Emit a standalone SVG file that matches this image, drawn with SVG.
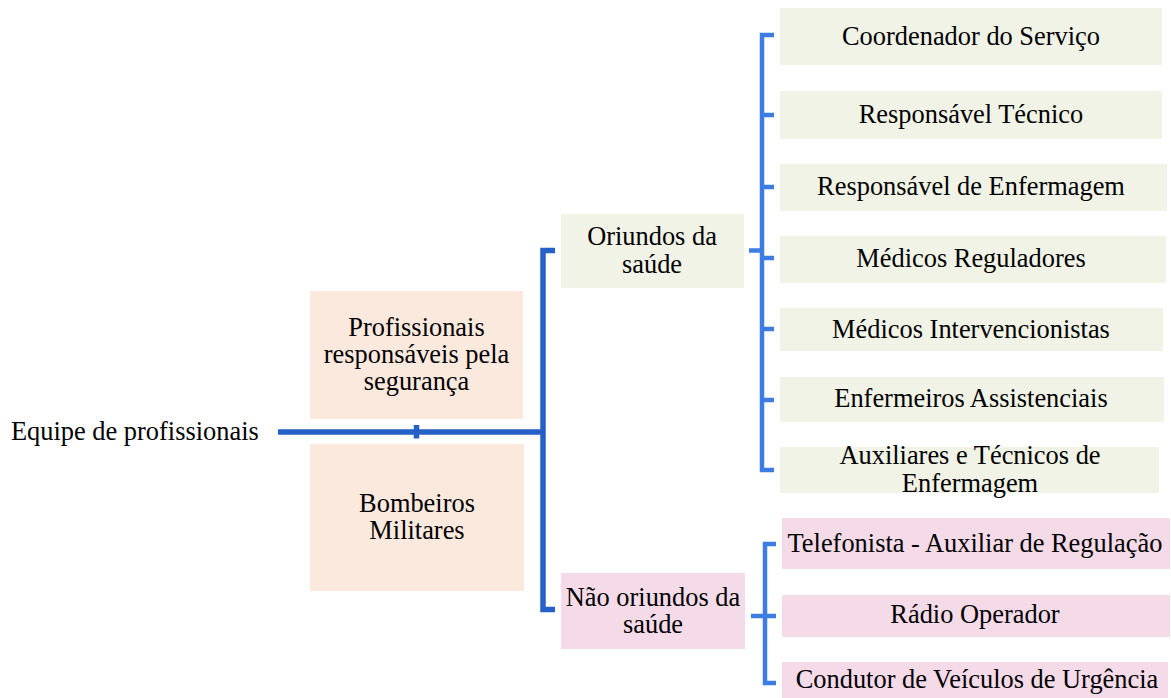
<svg xmlns="http://www.w3.org/2000/svg" width="1171" height="698" viewBox="0 0 1171 698">
<style>
text{font-family:"Liberation Serif","Times New Roman",serif;font-size:26.4px;fill:#000;text-anchor:middle}
.g{fill:#F0F3E5}
.p{fill:#FCE9DE}
.k{fill:#F5DAE8}
.m{fill:none;stroke:#2460C6;stroke-width:5.5;stroke-linejoin:miter}
.r{fill:none;stroke:#3D7CE2;stroke-width:4.5;stroke-linejoin:miter}
</style>
<rect width="1171" height="698" fill="#fff"/>
<g id="connectors">
<path class="m" d="M278,432 H543 M555,250.5 H543 V609.5 H555 M416.5,425 V438.5"/>
<path class="r" d="M749,250.5 H762 M774,35 H762 V470 H774 M762,115 H774 M762,187 H774 M762,258 H774 M762,329 H774 M762,400 H774"/>
<path class="r" d="M751,616 H776 M776,544 H765 V683 H776"/>
</g>
<g id="root"><text x="11" y="440" style="text-anchor:start">Equipe de profissionais</text></g>
<g id="seguranca"><rect class="p" x="310" y="291" width="213" height="128"/>
<text x="416.5" y="336">Profissionais</text><text x="416.5" y="363">responsáveis pela</text><text x="416.5" y="390">segurança</text></g>
<g id="bombeiros"><rect class="p" x="310" y="444" width="214" height="147"/>
<text x="417" y="511.5">Bombeiros</text><text x="417" y="538.5">Militares</text></g>
<g id="oriundos"><rect class="g" x="561" y="214" width="183" height="74"/>
<text x="652" y="245">Oriundos da</text><text x="652" y="272.5">saúde</text></g>
<g id="naooriundos"><rect class="k" x="561" y="573" width="184" height="76"/>
<text x="653" y="606">Não oriundos da</text><text x="653" y="632.5">saúde</text></g>
<g id="coordenador"><rect class="g" x="780" y="8" width="382" height="57"/><text x="971" y="45">Coordenador do Serviço</text></g>
<g id="rtecnico"><rect class="g" x="780" y="91" width="382" height="48"/><text x="971" y="123.3">Responsável Técnico</text></g>
<g id="renfermagem"><rect class="g" x="780" y="164" width="387" height="47"/><text x="971" y="195">Responsável de Enfermagem</text></g>
<g id="mreguladores"><rect class="g" x="780" y="236" width="386" height="47"/><text x="971" y="267.3">Médicos Reguladores</text></g>
<g id="mintervencionistas"><rect class="g" x="780" y="308" width="383" height="43"/><text x="971" y="337.7">Médicos Intervencionistas</text></g>
<g id="enfermeiros"><rect class="g" x="780" y="377" width="384" height="45"/><text x="971" y="406.7">Enfermeiros Assistenciais</text></g>
<g id="auxiliares"><rect class="g" x="780" y="447" width="379" height="46"/><text x="970" y="464.3">Auxiliares e Técnicos de</text><text x="970" y="491.7">Enfermagem</text></g>
<g id="telefonista"><rect class="k" x="782" y="518" width="388" height="51"/><text x="975" y="551.7">Telefonista - Auxiliar de Regulação</text></g>
<g id="radio"><rect class="k" x="782" y="595" width="388" height="42"/><text x="975" y="623.3">Rádio Operador</text></g>
<g id="condutor"><rect class="k" x="782" y="662" width="386" height="36"/><text x="977" y="688.3">Condutor de Veículos de Urgência</text></g>
</svg>
